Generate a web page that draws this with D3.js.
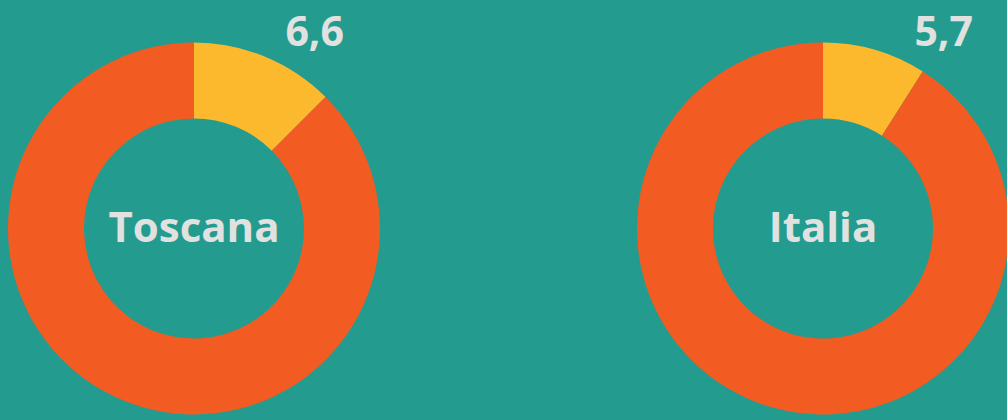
<!DOCTYPE html>
<html>
<head>
<meta charset="utf-8">
<script src="https://cdn.jsdelivr.net/npm/d3@7"></script>
<style>
  html, body { margin: 0; padding: 0; background: #239c8f; }
  svg { display: block; }
  .label { font-family: "Open Sans", sans-serif; font-weight: 700; fill: #e1e1df; }
</style>
</head>
<body>
<svg id="chart" width="1007" height="420"></svg>
<script>
// regions shown, one donut each
var regions = ["Toscana", "Italia"]
// highlighted share (yellow) and the rest (orange)
var highlight = [6.6, 5.7]
var rest = [46.2, 57.6]
var valueLabels = ["6,6", "5,7"]
var colors = ["#fdb92e", "#f25b21"]

var width = 1007, height = 420
var outerR = 186, innerR = 110
var cy = 228.5

var svg = d3.select("#chart")

var x = d3.scalePoint().domain(regions).range([194, 823])

var pie = d3.pie().sort(null).value(function (d) { return d })
var arc = d3.arc().innerRadius(innerR).outerRadius(outerR)

var g = svg.selectAll(".donut")
  .data(regions)
  .enter().append("g")
  .attr("class", "donut")
  .attr("transform", function (d) { return "translate(" + x(d) + "," + cy + ")" })

g.selectAll("path")
  .data(function (d, i) { return pie([highlight[i], rest[i]]) })
  .enter().append("path")
  .attr("d", arc)
  .attr("fill", function (d, i) { return colors[i] })

g.append("text")
  .attr("class", "label")
  .attr("text-anchor", "middle")
  .attr("y", 13)
  .style("font-size", "42px")
  .text(function (d) { return d })

// value label sits above the top right of the ring
var labelPos = d3.pointRadial(31.5 * Math.PI / 180, outerR + 45)

g.append("text")
  .attr("class", "label")
  .attr("text-anchor", "middle")
  .attr("x", labelPos[0])
  .attr("y", labelPos[1] + 14.5)
  .style("font-size", "41px")
  .text(function (d, i) { return valueLabels[i] })
</script>
</body>
</html>
